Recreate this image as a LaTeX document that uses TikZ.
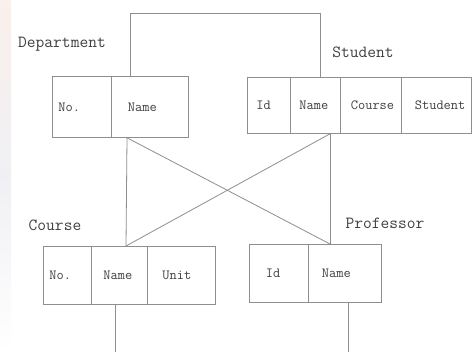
\documentclass[tikz,border=0pt]{standalone}
\usetikzlibrary{calc}
\definecolor{linegray}{HTML}{8E8E8E}
\definecolor{inkgray}{HTML}{404040}
\definecolor{edgepink}{HTML}{FAF0EC}
\definecolor{edgegray}{HTML}{F0F0F4}
\tikzset{
  cell/.style={draw=linegray, line width=0.8pt, anchor=north west,
    font=\ttfamily\fontsize{14}{16}\selectfont, text=inkgray,
    align=left, inner xsep=0pt, inner ysep=0pt},
  title/.style={font=\ttfamily\fontsize{17}{19}\selectfont, text=inkgray, inner sep=0pt},
  link/.style={draw=linegray, line width=0.8pt}
}
\begin{document}
\begin{tikzpicture}[x=1pt, y=-1pt]
  \useasboundingbox (0,0) rectangle (475,352);
  \fill[white] (0,0) rectangle (475,352);
  % faint tint along the left edge
  \shade[top color=edgepink, bottom color=white, middle color=edgegray] (0,0) rectangle (11,352);

  % Department
  \node[cell, minimum width=59pt, minimum height=61pt, text width=55pt] (dno) at (52,76) {\hspace*{4pt}No.};
  \node[cell, minimum width=77pt, minimum height=61pt, text width=66pt] (dname) at (111,76) {\hspace*{11pt}Name};
  \node[title] (dlabel) at (62,44) {Department};

  % Student
  \node[cell, minimum width=43pt, minimum height=56pt, text width=37pt] (sid) at (247,77) {\hspace*{6pt}Id};
  \node[cell, minimum width=50pt, minimum height=56pt, text width=44pt] (sname) at (290,77) {\hspace*{6pt}Name};
  \node[cell, minimum width=61pt, minimum height=56pt, text width=54pt] (scourse) at (340,77) {\hspace*{7pt}Course};
  \node[cell, minimum width=70pt, minimum height=56pt, text width=61pt] (sstudent) at (401,77) {\hspace*{9pt}Student};
  \node[title] (slabel) at (363,52) {Student};

  % Course
  \node[cell, minimum width=48pt, minimum height=58pt, text width=44pt] (cno) at (43,246) {\hspace*{4pt}No.};
  \node[cell, minimum width=56pt, minimum height=58pt, text width=48pt] (cname) at (91,246) {\hspace*{8pt}Name};
  \node[cell, minimum width=68pt, minimum height=58pt, text width=58pt] (cunit) at (147,246) {\hspace*{10pt}Unit};
  \node[title] (clabel) at (55,225) {Course};

  % Professor
  \node[cell, minimum width=59pt, minimum height=58pt, text width=48pt] (pid) at (249,244) {\hspace*{11pt}Id};
  \node[cell, minimum width=73pt, minimum height=58pt, text width=64pt] (pname) at (308,244) {\hspace*{9pt}Name};
  \node[title] (plabel) at (385,223) {Professor};

  % free ends at the bottom edge
  \coordinate (cdown) at ($(cname.south west)+(24,0)$);
  \coordinate (pdown) at ($(pname.south west)+(40,0)$);

  % Department -- Student across the top
  \draw[link] ($(dname.north west)+(19,0)$) -- ++(0,-62.7) -| ($(sname.north west)+(30,0)$);
  % Department down to Course and across to Professor
  \draw[link] ($(dname.south west)+(16,0)$) -- ($(cname.north west)+(35,0)$);
  \draw[link] ($(dname.south west)+(16,0)$) -- ($(pname.north west)+(22,0)$);
  % Student down to Professor and across to Course
  \draw[link] ($(sname.south west)+(40,0)$) -- ($(pname.north west)+(22,0)$);
  \draw[link] ($(sname.south west)+(40,0)$) -- ($(cname.north west)+(35,0)$);
  % lines leaving downwards
  \draw[link] (cdown) -- (cdown |- 0,352);
  \draw[link] (pdown) -- (pdown |- 0,352);
\end{tikzpicture}
\end{document}
